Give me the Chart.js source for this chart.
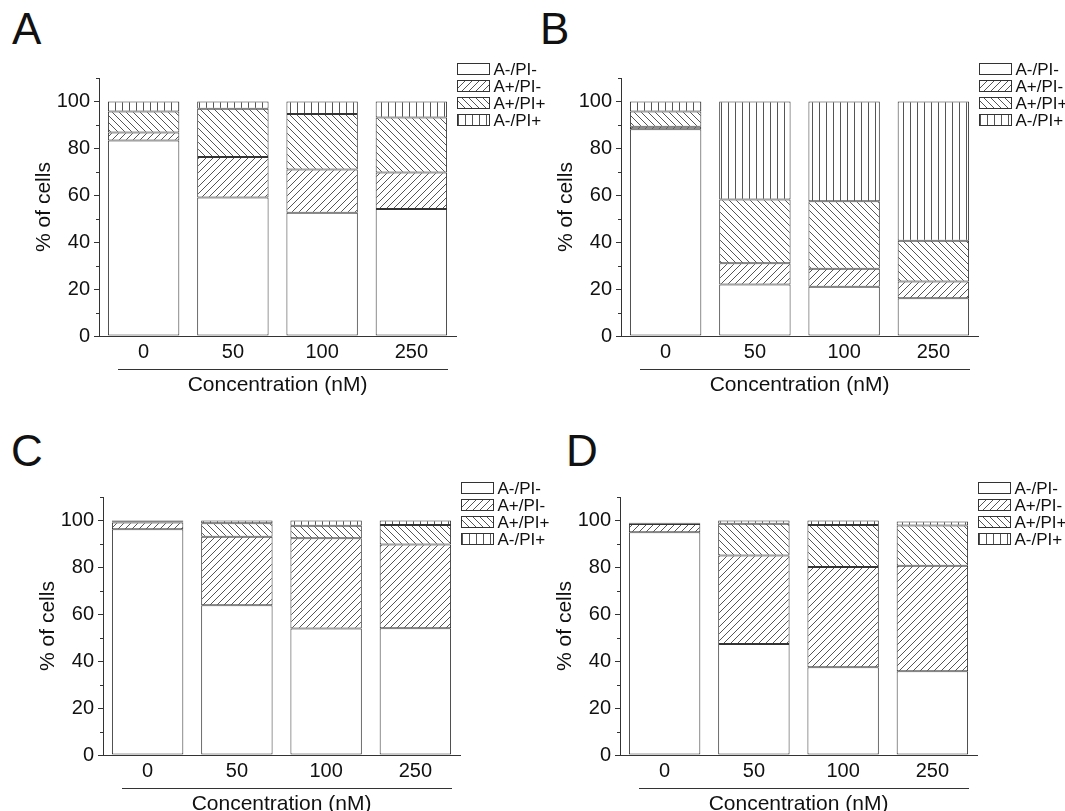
<!DOCTYPE html>
<html>
<head>
<meta charset="utf-8">
<script src="https://cdn.jsdelivr.net/npm/chart.js@4.4.1/dist/chart.umd.min.js"></script>
<style>
  html, body { margin: 0; padding: 0; background: #fff; overflow: hidden; }
  body { width: 1065px; height: 811px; position: relative; font-family: 'Liberation Sans', Arial, sans-serif; }
  .panel { position: absolute; width: 560px; height: 410px; }
  .letter { position: absolute; font-size: 44px; line-height: 1; color: #111; }
</style>
</head>
<body>
<div class="letter" style="left:12px;top:7px">A</div>
<div class="letter" style="left:540px;top:7px">B</div>
<div class="letter" style="left:11px;top:429px">C</div>
<div class="letter" style="left:566px;top:429px">D</div>

<div class="panel" style="left:0px;top:0px"><canvas id="chartA" width="560" height="410"></canvas></div>
<div class="panel" style="left:522px;top:0px"><canvas id="chartB" width="560" height="410"></canvas></div>
<div class="panel" style="left:4px;top:419px"><canvas id="chartC" width="560" height="410"></canvas></div>
<div class="panel" style="left:521px;top:419px"><canvas id="chartD" width="560" height="410"></canvas></div>

<script>
// shared categories / labels
const categories = ['0', '50', '100', '250'];
const seriesLabels = ['A-/PI-', 'A+/PI-', 'A+/PI+', 'A-/PI+'];
const yMajorTicks = [0, 20, 40, 60, 80, 100];
const yMinorTicks = [10, 30, 50, 70, 90, 110];
const xTitle = 'Concentration (nM)';
const yTitle = '% of cells';

// panel A
const negNegA = [83.4, 59.1, 52.6, 54.1];
const posNegA = [3.4, 17.2, 18.4, 15.6];
const posPosA = [8.9, 20.6, 23.7, 23.5];
const negPosA = [4.3, 3.1, 5.3, 6.8];

// panel B
const negNegB = [88.2, 22.0, 21.0, 16.1];
const posNegB = [1.0, 9.0, 7.7, 7.1];
const posPosB = [6.5, 27.2, 28.8, 17.4];
const negPosB = [4.3, 41.8, 42.5, 59.4];

// panel C
const negNegC = [96.3, 63.9, 53.9, 54.0];
const posNegC = [2.8, 29.2, 38.5, 35.8];
const posPosC = [0.6, 5.7, 5.3, 8.3];
const negPosC = [0.3, 1.2, 2.3, 1.9];

// panel D
const negNegD = [95.0, 47.3, 37.4, 35.7];
const posNegD = [3.5, 37.8, 42.8, 45.0];
const posPosD = [0.3, 13.5, 17.9, 17.2];
const negPosD = [0.2, 1.4, 1.9, 1.7];

Chart.defaults.font.family = "'Liberation Sans', Arial, sans-serif";
Chart.defaults.color = '#111';

const lineCol = '#333';
const hatchCol = '#555';

function hatch(kind) {
    const s = 7;
    const c = document.createElement('canvas');
    c.width = s; c.height = s;
    const g = c.getContext('2d');
    g.fillStyle = '#fff';
    g.fillRect(0, 0, s, s);
    g.strokeStyle = hatchCol;
    g.lineWidth = 1;
    g.beginPath();
    if (kind === 'fwd') {
        g.moveTo(-1, s + 1); g.lineTo(s + 1, -1);
        g.moveTo(-1, 1); g.lineTo(1, -1);
        g.moveTo(s - 1, s + 1); g.lineTo(s + 1, s - 1);
    } else if (kind === 'back') {
        g.moveTo(-1, -1); g.lineTo(s + 1, s + 1);
        g.moveTo(s - 1, -1); g.lineTo(s + 1, 1);
        g.moveTo(-1, s - 1); g.lineTo(1, s + 1);
    } else {
        g.moveTo(3.5, 0); g.lineTo(3.5, s);
    }
    g.stroke();
    return g.createPattern(c, 'repeat');
}

const fills = ['#ffffff', hatch('fwd'), hatch('back'), hatch('vert')];

// minor ticks, separator line under the category labels, legend box
const extras = {
    id: 'extras',
    afterDraw(chart) {
        const ctx = chart.ctx;
        const area = chart.chartArea;
        const y = chart.scales.y;
        ctx.save();
        ctx.strokeStyle = lineCol;
        ctx.lineWidth = 1;
        ctx.beginPath();
        yMinorTicks.forEach(v => {
            const py = Math.round(y.getPixelForValue(v)) + 0.5;
            ctx.moveTo(area.left - 3, py);
            ctx.lineTo(area.left, py);
        });
        const ly = Math.round(area.bottom + 33) + 0.5;
        ctx.moveTo(area.left + 19, ly);
        ctx.lineTo(area.right - 8, ly);
        ctx.stroke();

        ctx.font = "17px 'Liberation Sans', Arial, sans-serif";
        ctx.textBaseline = 'middle';
        chart.data.datasets.forEach((ds, i) => {
            const bx = area.right + 1.5;
            const cy = area.top - 9 + i * 17;
            ctx.fillStyle = ds.backgroundColor;
            ctx.fillRect(bx, cy - 5.5, 32, 11);
            ctx.strokeStyle = lineCol;
            ctx.strokeRect(bx, cy - 5.5, 32, 11);
            ctx.fillStyle = '#111';
            ctx.fillText(ds.label, bx + 36, cy + 1);
        });
        ctx.restore();
    }
};

function makeChart(id, series) {
    const ctx = document.getElementById(id).getContext('2d');
    new Chart(ctx, {
        type: 'bar',
        data: {
            labels: categories,
            datasets: series.map((vals, i) => ({
                label: seriesLabels[i],
                data: vals,
                backgroundColor: fills[i],
                borderColor: lineCol,
                borderWidth: 1,
                borderSkipped: false,
                categoryPercentage: 1.0,
                barPercentage: 0.8
            }))
        },
        options: {
            responsive: false,
            animation: false,
            devicePixelRatio: 1,
            layout: { padding: { left: 0, top: 78, right: 104, bottom: 0 } },
            plugins: {
                legend: { display: false },
                tooltip: { enabled: false }
            },
            scales: {
                x: {
                    stacked: true,
                    grid: { display: false, drawTicks: false },
                    border: { display: true, color: lineCol, width: 1 },
                    ticks: { font: { size: 20 }, padding: 4, color: '#111' },
                    title: { display: true, text: xTitle, font: { size: 21 }, color: '#111', padding: { top: 0, bottom: 12 } },
                    afterFit(scale) { scale.height = 74; }
                },
                y: {
                    stacked: true,
                    min: 0,
                    max: 110,
                    grid: { drawOnChartArea: false, drawTicks: true, tickLength: 5, color: lineCol },
                    border: { display: true, color: lineCol, width: 1 },
                    ticks: { font: { size: 20 }, padding: 4, color: '#111', includeBounds: false },
                    afterBuildTicks(scale) { scale.ticks = yMajorTicks.map(v => ({ value: v })); },
                    title: { display: true, text: yTitle, font: { size: 21 }, color: '#111', padding: { top: 32, bottom: 0 } },
                    afterFit(scale) { scale.width = 99; }
                }
            }
        },
        plugins: [extras]
    });
}

makeChart('chartA', [negNegA, posNegA, posPosA, negPosA]);
makeChart('chartB', [negNegB, posNegB, posPosB, negPosB]);
makeChart('chartC', [negNegC, posNegC, posPosC, negPosC]);
makeChart('chartD', [negNegD, posNegD, posPosD, negPosD]);
</script>
</body>
</html>
